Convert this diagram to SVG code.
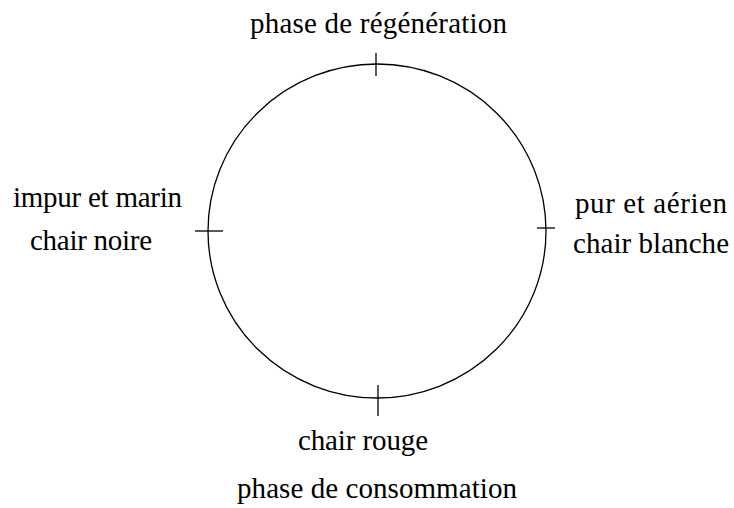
<svg xmlns="http://www.w3.org/2000/svg" width="734" height="508" viewBox="0 0 734 508">
<style>
.l{font-family:'Liberation Serif','Times New Roman',serif;font-size:29px;fill:#000;text-anchor:middle}
.s{stroke:#000;stroke-width:1.3;fill:none}
</style>
<rect width="734" height="508" fill="#fff"/>
<g id="cycle"><ellipse class="s" cx="377" cy="231" rx="169" ry="167"/></g>
<g id="connectors">
<line class="s" x1="376" y1="53" x2="376" y2="76"/>
<line class="s" x1="378" y1="385" x2="378" y2="416"/>
<line class="s" x1="195" y1="231" x2="223" y2="231"/>
<line class="s" x1="537" y1="228" x2="555" y2="228"/>
</g>
<g id="top"><text class="l" x="378.5" y="33" textLength="257">phase de régénération</text></g>
<g id="left"><text class="l" x="97.5" y="207" textLength="169">impur et marin</text><text class="l" x="91" y="250" textLength="122">chair noire</text></g>
<g id="right"><text class="l" x="651" y="213" textLength="152">pur et aérien</text><text class="l" x="651" y="253" textLength="156">chair blanche</text></g>
<g id="bottom"><text class="l" x="363" y="450" textLength="130">chair rouge</text><text class="l" x="377" y="498" textLength="280">phase de consommation</text></g>
</svg>
